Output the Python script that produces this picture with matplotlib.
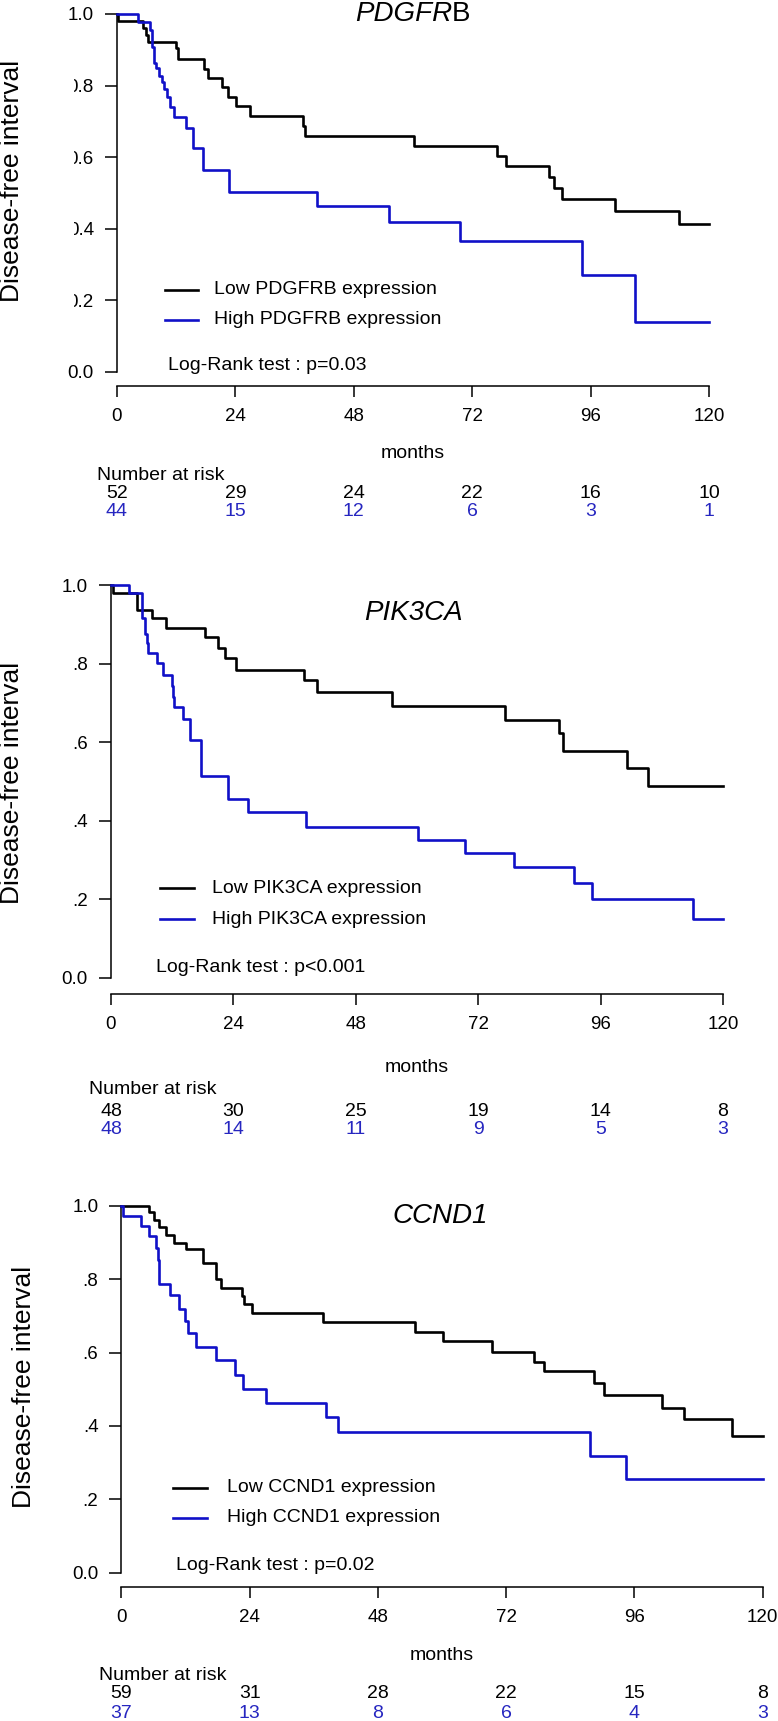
import numpy as np
import matplotlib
matplotlib.use("Agg")
import matplotlib.pyplot as plt
from matplotlib import transforms
from matplotlib.lines import Line2D
from matplotlib.patches import Rectangle

plt.rcParams['font.family'] = ['Liberation Sans', 'DejaVu Sans']

# ---------------- data ----------------
x_ticks = [0, 24, 48, 72, 96, 120]
y_ticks = [0.0, 0.2, 0.4, 0.6, 0.8, 1.0]
y_labels_p1 = ["0.0", "0.2", "0.4", "0.6", "0.8", "1.0"]
y_labels_p23 = ["0.0", ".2", ".4", ".6", ".8", "1.0"]

genes = ["PDGFRB", "PIK3CA", "CCND1"]
pvalues = ["p=0.03", "p<0.001", "p=0.02"]

p1_low_t = [0.3, 5.3, 5.8, 6.2, 11.9, 12.4, 17.6, 18.4, 21.2, 22.4, 24.2, 27.0, 37.8, 38.2, 60.2, 77.0, 78.8, 87.5, 88.5, 90.3, 100.9, 114.0]
p1_low_s = [0.981, 0.962, 0.942, 0.923, 0.904, 0.875, 0.846, 0.820, 0.795, 0.768, 0.742, 0.716, 0.688, 0.660, 0.632, 0.604, 0.576, 0.546, 0.515, 0.484, 0.451, 0.414]
p1_high_t = [4.2, 6.7, 7.0, 7.6, 8.0, 8.5, 9.1, 9.5, 10.1, 10.8, 11.6, 13.9, 15.4, 17.4, 22.7, 40.5, 55.1, 69.5, 94.2, 105.0]
p1_high_s = [0.977, 0.955, 0.909, 0.864, 0.848, 0.826, 0.810, 0.790, 0.767, 0.740, 0.712, 0.681, 0.627, 0.565, 0.502, 0.465, 0.418, 0.367, 0.272, 0.139]

p2_low_t = [0.3, 5.0, 8.0, 10.7, 18.5, 20.9, 22.4, 24.5, 37.8, 40.4, 55.0, 77.2, 87.8, 88.6, 101.2, 105.3]
p2_low_s = [0.979, 0.937, 0.915, 0.890, 0.867, 0.839, 0.813, 0.784, 0.758, 0.727, 0.693, 0.656, 0.623, 0.578, 0.534, 0.489]
p2_high_t = [3.6, 6.1, 6.6, 7.0, 7.3, 9.1, 10.2, 11.9, 12.2, 12.4, 14.1, 15.4, 17.7, 22.9, 26.8, 38.2, 60.1, 69.4, 79.0, 90.7, 94.4, 114.2]
p2_high_s = [0.979, 0.917, 0.875, 0.852, 0.826, 0.801, 0.771, 0.743, 0.716, 0.690, 0.658, 0.606, 0.514, 0.455, 0.423, 0.385, 0.351, 0.319, 0.282, 0.243, 0.201, 0.150]

p3_low_t = [5.1, 6.0, 7.1, 8.4, 9.9, 12.1, 15.3, 17.6, 18.6, 22.6, 22.9, 24.4, 37.8, 54.9, 60.1, 69.4, 77.2, 79.1, 88.4, 90.3, 101.2, 105.3, 114.2]
p3_low_s = [0.984, 0.962, 0.943, 0.922, 0.900, 0.884, 0.844, 0.800, 0.776, 0.755, 0.732, 0.709, 0.683, 0.656, 0.631, 0.603, 0.574, 0.549, 0.517, 0.483, 0.450, 0.419, 0.373]
p3_high_t = [0.2, 3.6, 5.2, 6.5, 6.8, 7.0, 9.1, 10.7, 11.8, 12.4, 13.9, 17.6, 21.2, 22.7, 27.1, 38.2, 40.6, 87.7, 94.5]
p3_high_s = [0.973, 0.945, 0.918, 0.886, 0.854, 0.786, 0.756, 0.719, 0.686, 0.654, 0.615, 0.579, 0.540, 0.501, 0.462, 0.423, 0.382, 0.317, 0.255]

p1_risk_low = [52, 29, 24, 22, 16, 10]
p1_risk_high = [44, 15, 12, 6, 3, 1]
p2_risk_low = [48, 30, 25, 19, 14, 8]
p2_risk_high = [48, 14, 11, 9, 5, 3]
p3_risk_low = [59, 31, 28, 22, 15, 8]
p3_risk_high = [37, 13, 8, 6, 4, 3]

# ---------------- layout (pixels) ----------------
W, H = 778, 1721
BLUE = '#1010c8'
RBLUE = '#2626c0'
FS = 14
TFS = 13.5

layouts = [
    dict(x0=117, x1=709, ytop=14, ybot=372, axy=386, title=(413, 14), ylab=(12.5, 181),
         leg=(165, 198, 290, 320, 214), lr=(168, 366), months=454, nar=(97, 475), rows=(493, 512)),
    dict(x0=111, x1=723, ytop=585, ybot=978, axy=994, title=(413, 613), ylab=(12.5, 783),
         leg=(160, 194, 888, 919, 212), lr=(156, 968), months=1067, nar=(89, 1090), rows=(1112, 1130)),
    dict(x0=121.5, x1=762.5, ytop=1206, ybot=1572.5, axy=1587, title=(440, 1216), ylab=(24, 1387),
         leg=(173, 207, 1488, 1518, 227), lr=(176, 1565), months=1655, nar=(99, 1676), rows=(1694, 1713)),
]

curves = [
    (p1_low_t, p1_low_s, p1_high_t, p1_high_s, p1_risk_low, p1_risk_high),
    (p2_low_t, p2_low_s, p2_high_t, p2_high_s, p2_risk_low, p2_risk_high),
    (p3_low_t, p3_low_s, p3_high_t, p3_high_s, p3_risk_low, p3_risk_high),
]


def fx(x):
    return x / W


def fy(y):
    return 1 - y / H


fig = plt.figure(figsize=(W / 100, H / 100), dpi=100)
fig.patch.set_facecolor('white')

for i, (L, C) in enumerate(zip(layouts, curves)):
    lt, ls, ht, hs, rl, rh = C
    ax = fig.add_axes([fx(L['x0']), fy(L['ybot']), (L['x1'] - L['x0']) / W, (L['ybot'] - L['ytop']) / H])
    ax.patch.set_visible(False)
    ax.set_xlim(0, 120)
    ax.set_ylim(0, 1)
    ax.step(np.r_[0, lt, 120], np.r_[1.0, ls, ls[-1]], where='post', color='black', lw=1.9, clip_on=False, zorder=3)
    ax.step(np.r_[0, ht, 120], np.r_[1.0, hs, hs[-1]], where='post', color=BLUE, lw=1.9, clip_on=False, zorder=4)
    for sp in ['top', 'right']:
        ax.spines[sp].set_visible(False)
    ax.spines['left'].set_linewidth(1.1)
    ax.spines['bottom'].set_linewidth(1.1)
    ax.spines['bottom'].set_position(('outward', (L['axy'] - L['ybot']) * 0.72))
    ax.set_xticks(x_ticks)
    ax.set_xticklabels([str(v) for v in x_ticks])
    ax.set_yticks(y_ticks)
    ax.set_yticklabels(y_labels_p1 if i == 0 else y_labels_p23)
    ax.tick_params(axis='y', length=12 * 0.72, width=1.1, pad=8, labelsize=TFS)
    ax.tick_params(axis='x', length=11 * 0.72, width=1.1, pad=8, labelsize=TFS)

    # title
    tx, ty = L['title']
    if genes[i] == 'PDGFRB':
        t1 = fig.text(fx(tx - 58), fy(ty), 'PDGFR', ha='left', va='center', style='italic', fontsize=20)
        ax.annotate('B', xy=(1, 0), xycoords=t1, ha='left', va='bottom', fontsize=20, annotation_clip=False)
    else:
        fig.text(fx(tx), fy(ty), genes[i], ha='center', va='center', style='italic', fontsize=20)

    # y label
    fig.text(fx(L['ylab'][0]), fy(L['ylab'][1]), 'Disease-free interval', rotation=90,
             ha='center', va='center', fontsize=19)

    # legend
    lx0, lx1, ly1, ly2, ltx = L['leg']
    fig.add_artist(Line2D([fx(lx0), fx(lx1)], [fy(ly1)] * 2, color='black', lw=1.9, transform=fig.transFigure))
    fig.add_artist(Line2D([fx(lx0), fx(lx1)], [fy(ly2)] * 2, color=BLUE, lw=1.9, transform=fig.transFigure))
    fig.text(fx(ltx), fy(ly1), f'Low {genes[i]} expression', ha='left', va='center', fontsize=FS)
    fig.text(fx(ltx), fy(ly2), f'High {genes[i]} expression', ha='left', va='center', fontsize=FS)

    # log rank
    fig.text(fx(L['lr'][0]), fy(L['lr'][1]), f'Log-Rank test : {pvalues[i]}', ha='left', va='center', fontsize=FS)

    # months and number at risk
    trans = transforms.blended_transform_factory(ax.transData, fig.transFigure)
    ax.text(60, fy(L['months']), 'months', transform=trans, ha='center', va='center', fontsize=FS, clip_on=False)
    fig.text(fx(L['nar'][0]), fy(L['nar'][1]), 'Number at risk', ha='left', va='center', fontsize=FS)
    for t, a, b in zip(x_ticks, rl, rh):
        ax.text(t, fy(L['rows'][0]), str(a), transform=trans, ha='center', va='center', fontsize=FS, color='black', clip_on=False)
        ax.text(t, fy(L['rows'][1]), str(b), transform=trans, ha='center', va='center', fontsize=FS, color=RBLUE, clip_on=False)

# partially hidden leading zeros of the first panel's tick labels
fig.add_artist(Rectangle((fx(50), fy(310)), (74 - 50) / W, (310 - 70) / H, transform=fig.transFigure,
                         facecolor='white', edgecolor='none', zorder=10))

fig.savefig('out.png', dpi=100, facecolor='white')
